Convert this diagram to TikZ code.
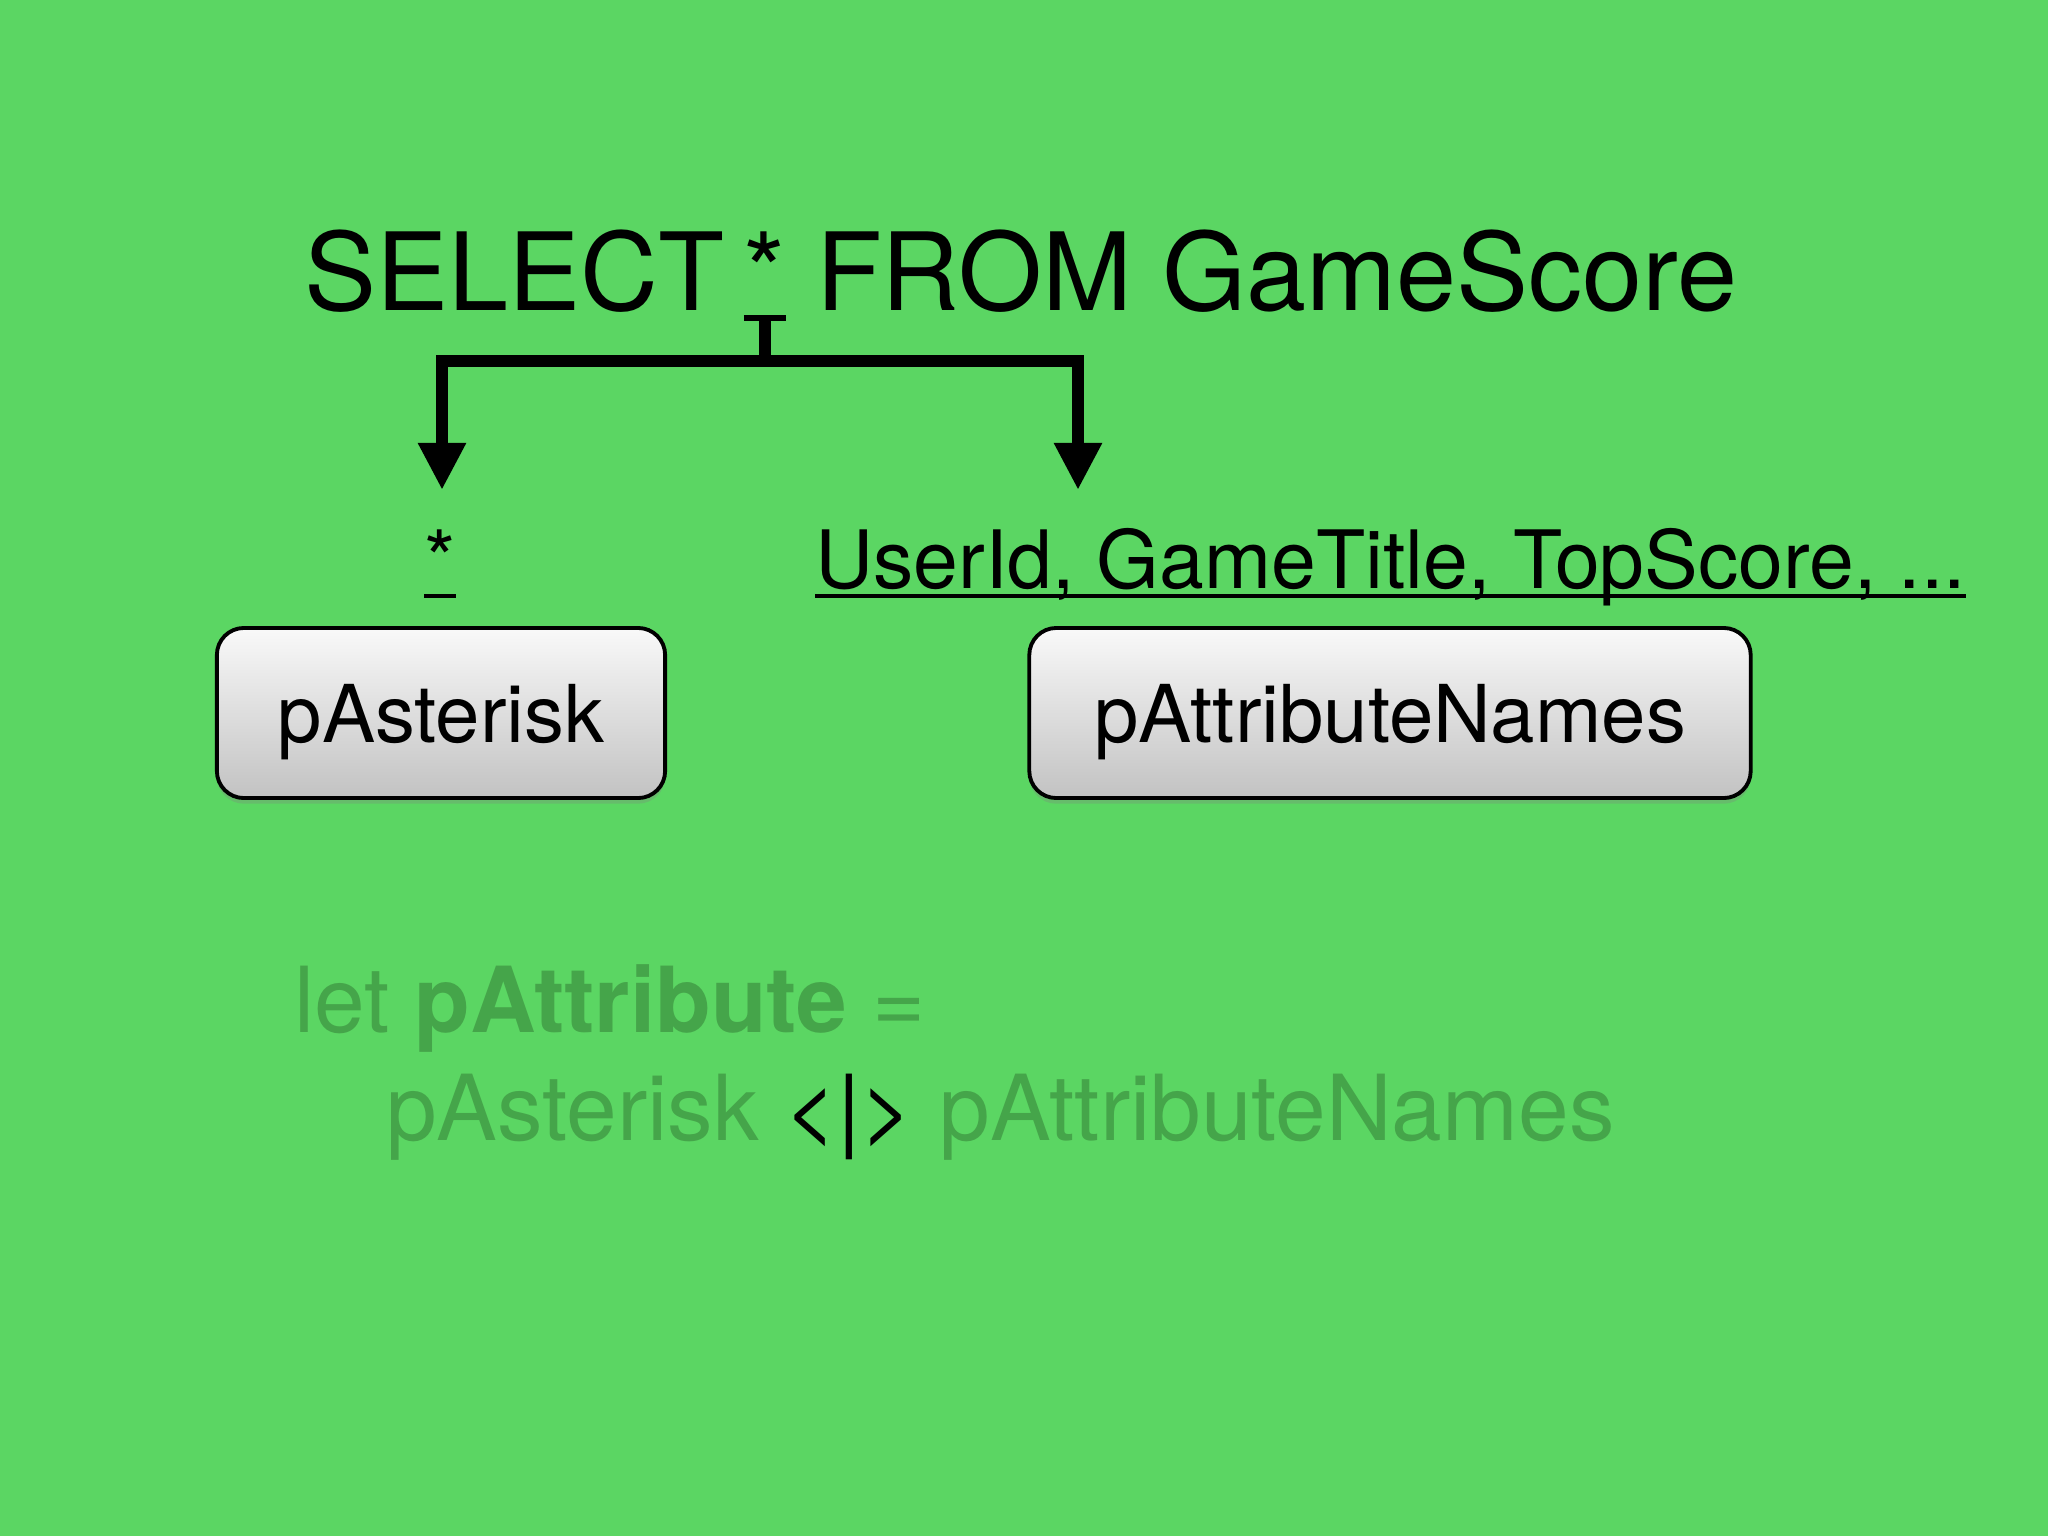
\documentclass[tikz,border=0pt]{standalone}
\usepackage{fontspec}
\setmainfont{TeX Gyre Heros}
\usepackage{tikz}
\usetikzlibrary{arrows.meta, positioning, calc, shadows}

\definecolor{bggreen}{RGB}{91,214,99}
\definecolor{dimgreen}{RGB}{69,165,74}
\definecolor{boxtop}{RGB}{249,249,249}
\definecolor{boxbot}{RGB}{194,194,194}

\begin{document}
\begin{tikzpicture}[x=0.01cm, y=-0.01cm,
    every node/.style={inner sep=0pt, outer sep=0pt},
    titletext/.style={font=\fontsize{30.7}{36}\selectfont},
    lbltext/.style={font=\fontsize{22.9}{27}\selectfont},
    codetext/.style={font=\fontsize{25.9}{31}\selectfont, text=dimgreen},
    parserbox/.style={draw=black, line width=1.1pt, rounded corners=0.27cm,
        top color=boxtop, bottom color=boxbot, minimum height=1.7cm,
        text depth=0pt, font=\fontsize{22.7}{27}\selectfont,
        drop shadow={shadow xshift=0pt, shadow yshift=-1.6pt, opacity=0.3}},
    uline/.style={line width=1.1pt},
    bracket/.style={line width=3.5pt, line join=miter},
    tip/.style={-{Triangle[length=13.4pt, width=12.8pt]}}]

    \fill[bggreen] (0,0) rectangle (2048,1536);

    % query
    \node[titletext, anchor=base west] (sel) at (304,310) {SELECT};
    \node[titletext, base right=0.2cm of sel] (star) {*};
    \node[titletext, base right=0.3cm of star] (from) {FROM GameScore};
    \draw[line width=1.7pt] ($(star.base west)+(0,8)$) -- ($(star.base east)+(0,8)$);

    \coordinate (fork) at ($(star.base)+(0,8)$);
    \coordinate (joint) at ($(fork)+(0,43)$);
    \coordinate (tipL) at (442,490);
    \coordinate (tipR) at (1078,490);
    \draw[bracket] (fork) -- (joint);
    \draw[bracket, tip] (joint) -| (tipL);
    \draw[bracket, tip] (joint) -| (tipR);

    % labels
    \node[lbltext, anchor=base] (astlbl) at (440,588) {*};
    \node[lbltext, anchor=base west] (attrlbl) at (815,588) {UserId, GameTitle, TopScore, ...};
    \draw[uline] ($(astlbl.base west)+(0,8)$) -- ($(astlbl.base east)+(0,8)$);
    \draw[uline] ($(attrlbl.base west)+(0,8)$) -- ($(attrlbl.base east)+(0,8)$);

    % parsers
    \node[parserbox, minimum width=4.48cm] (past) at (441,713) {pAsterisk};
    \node[parserbox, minimum width=7.21cm] (pattr) at (1390,713) {pAttributeNames};

    % code
    \node[codetext, anchor=base west] (letln) at (294,1032) {let \textbf{pAttribute} =};
    \node[codetext, anchor=base west] (altln) at (386,1140) {pAsterisk {\color{black}<|>} pAttributeNames};
\end{tikzpicture}
\end{document}
